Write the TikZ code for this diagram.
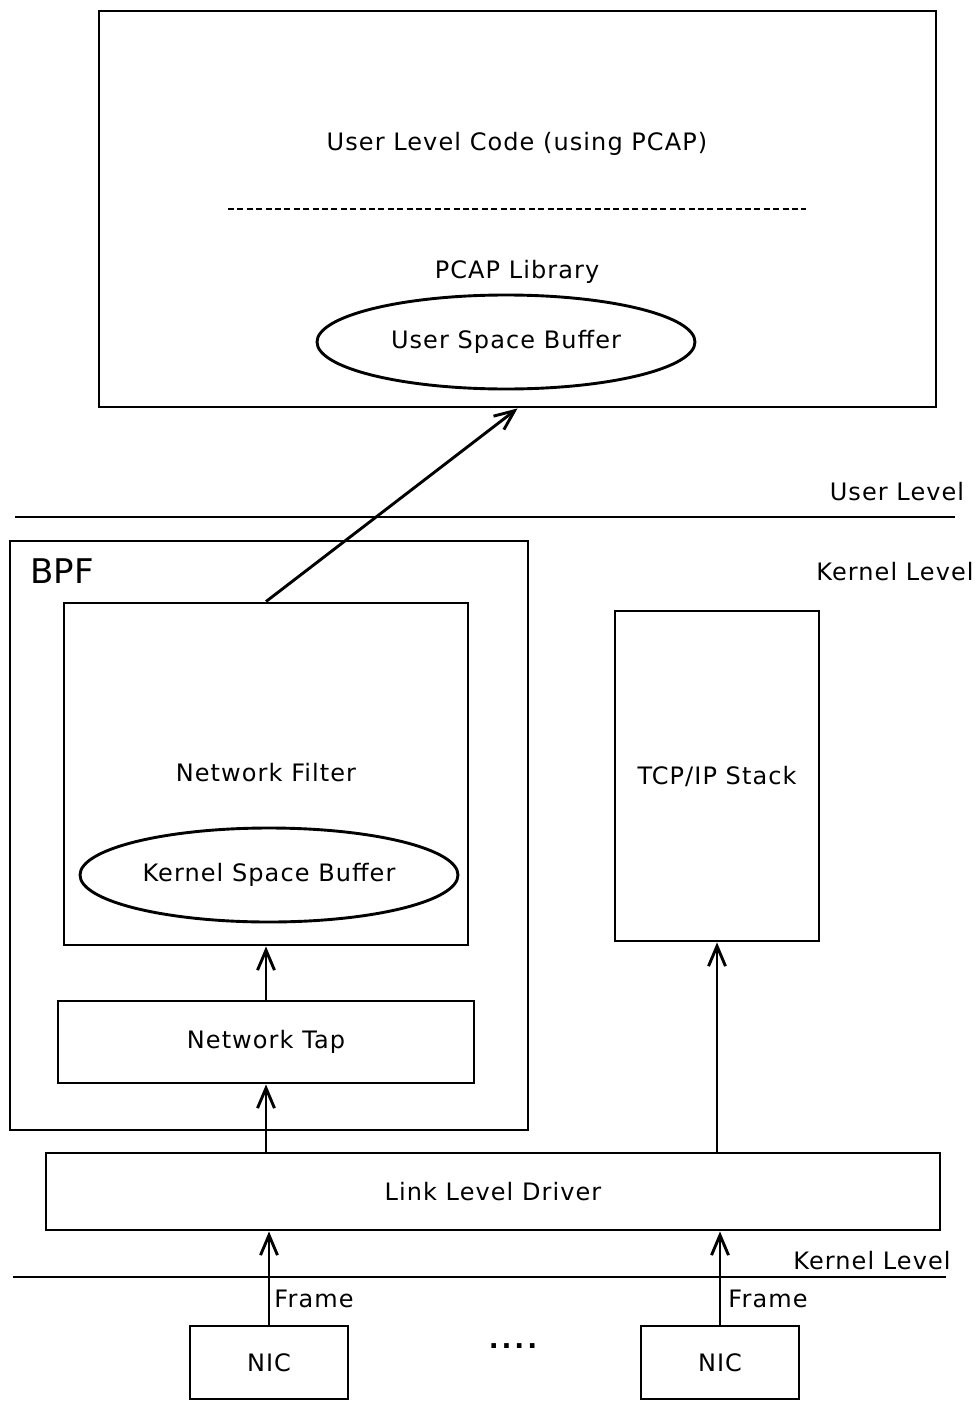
\documentclass[tikz,border=0pt]{standalone}
\usepackage{fontspec}
\setmainfont{DejaVu Sans}
\newfontfamily\spacedfont[LetterSpace=4.5]{DejaVu Sans}
\usetikzlibrary{arrows.meta,shapes.geometric}

\begin{document}
\begin{tikzpicture}[x=1pt,y=-1pt,line width=2.9pt,
  lbl/.style={inner sep=0pt,font=\spacedfont\fontsize{24}{28}\selectfont},
  box/.style={draw,rectangle,inner sep=0pt,lbl},
  buf/.style={draw,ellipse,inner sep=0pt,lbl},
  flow/.style={-{Straight Barb[length=20pt,width=17pt,line width=2.9pt]}}]
\useasboundingbox (0,0) rectangle (976,1402);

% user space
\node[box,minimum width=837,minimum height=396] (user) at (517.5,209) {};
\node[lbl] (code) at (517,144) {User Level Code (using PCAP)};
\coordinate (sepL) at (228,209);
\coordinate (sepR) at (806,209);
\draw[line width=1.6pt,dash pattern=on 6pt off 3.4pt] (sepL) -- (sepR);
\node[lbl] (lib) at (517,272) {PCAP Library};
\node[buf,minimum width=378,minimum height=94] (usb) at (506,342) {User Space Buffer};

% user / kernel boundary
\coordinate (ulL) at (15,517);
\coordinate (ulR) at (955,517);
\draw (ulL) -- (ulR);
\node[lbl] (ul) at (897,492) {User Level};
\node[lbl] (kl) at (895,572) {Kernel Level};

% BPF
\node[box,minimum width=518,minimum height=589] (bpf) at (269,835.5) {};
\node[inner sep=0pt,font=\fontsize{34}{38}\selectfont] (bpft) at (62,571) {BPF};
\node[box,minimum width=404,minimum height=342] (nf) at (266,774) {};
\node[lbl] (nft) at (266,773) {Network Filter};
\node[buf,minimum width=378,minimum height=94] (ksb) at (269,875) {Kernel Space Buffer};
\node[box,minimum width=416,minimum height=82] (tap) at (266,1042) {Network Tap};

% protocol stack
\node[box,minimum width=204,minimum height=330] (tcp) at (717,776) {TCP/IP Stack};

% driver
\node[box,minimum width=894,minimum height=77] (lld) at (493,1191.5) {Link Level Driver};

% hardware boundary
\coordinate (hwL) at (13,1277);
\coordinate (hwR) at (946,1277);
\draw (hwL) -- (hwR);
\node[lbl] (kl2) at (872,1261) {Kernel Level};

% NICs
\node[box,minimum width=158,minimum height=73] (nic1) at (269,1362.5) {NIC};
\node[box,minimum width=158,minimum height=73] (nic2) at (720,1362.5) {NIC};
\node[inner sep=0pt,font=\fontsize{26}{28}\selectfont\bfseries] (dots) at (513,1346) {.\hspace{3pt}.\hspace{3pt}.\hspace{3pt}.};
\node[lbl] (fr1) at (314,1299) {Frame};
\node[lbl] (fr2) at (768,1299) {Frame};

% data flow
\draw[flow] (nic1.north) -- (nic1.north |- lld.south);
\draw[flow] (nic2.north) -- (nic2.north |- lld.south);
\draw[flow] (tap.south |- lld.north) -- (tap.south);
\draw[flow] (tcp.south |- lld.north) -- (tcp.south);
\draw[flow] (tap.north) -- (nf.south);
\draw[flow] (nf.north) -- (user.south);
\end{tikzpicture}
\end{document}
